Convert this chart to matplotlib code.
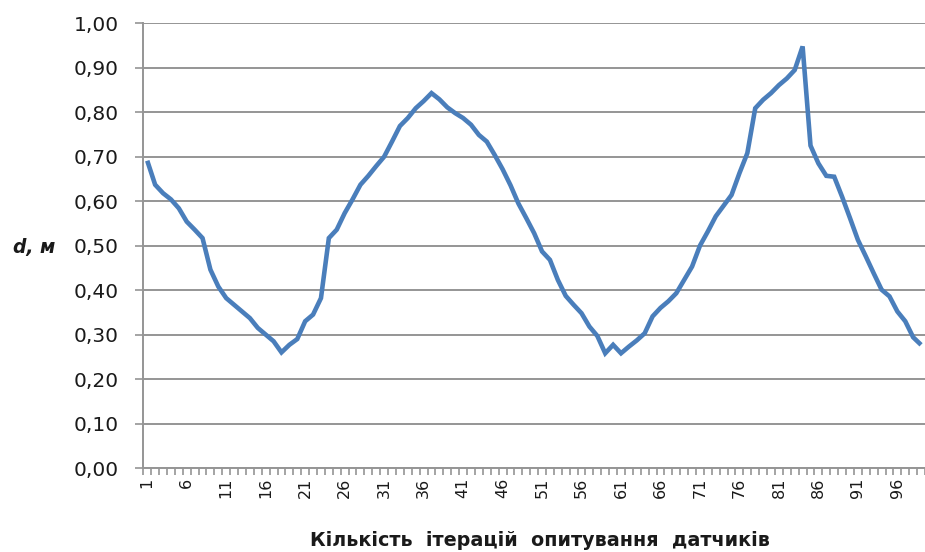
import matplotlib
matplotlib.use("Agg")
import matplotlib.pyplot as plt
import numpy as np

iterations = list(range(1, 100))
distance_m = [
    0.691, 0.637, 0.618, 0.604, 0.584, 0.554, 0.536, 0.517, 0.446, 0.408,
    0.382, 0.367, 0.352, 0.337, 0.315, 0.300, 0.285, 0.260, 0.277, 0.290,
    0.330, 0.345, 0.382, 0.517, 0.536, 0.573, 0.604, 0.637, 0.657, 0.679,
    0.700, 0.734, 0.769, 0.787, 0.809, 0.825, 0.843, 0.829, 0.811, 0.798,
    0.787, 0.772, 0.749, 0.734, 0.704, 0.672, 0.636, 0.595, 0.562, 0.528,
    0.487, 0.468, 0.423, 0.387, 0.367, 0.348, 0.318, 0.297, 0.258, 0.277,
    0.258, 0.273, 0.287, 0.303, 0.341, 0.360, 0.375, 0.393, 0.423, 0.453,
    0.500, 0.532, 0.566, 0.590, 0.614, 0.663, 0.708, 0.809, 0.828, 0.843,
    0.861, 0.876, 0.895, 0.948, 0.725, 0.685, 0.657, 0.655, 0.610, 0.562,
    0.513, 0.476, 0.438, 0.401, 0.386, 0.352, 0.330, 0.294, 0.277,
]
y_ticks = [0.0, 0.1, 0.2, 0.3, 0.4, 0.5, 0.6, 0.7, 0.8, 0.9, 1.0]
x_labels = list(range(1, 100, 5))
x_title = "Кількість  ітерацій  опитування  датчиків"
y_title = "d, м"

W, H = 925, 552
fig = plt.figure(figsize=(W / 100, H / 100), dpi=100)
left, right, top, bottom = 143.3, 925.0, 23.3, 468.0
ax = fig.add_axes([left / W, 1 - bottom / H, (right - left) / W, (bottom - top) / H])

grid_c = "#959595"
ax.plot(iterations, distance_m, color="#4a7ebb", lw=3.3, solid_joinstyle="miter",
        solid_capstyle="butt", zorder=3)

ax.set_xlim(0.5, len(iterations) + 0.5)
ax.set_ylim(0, 1.0)
ax.set_yticks(y_ticks)
ax.set_yticklabels([f"{v:.2f}".replace(".", ",") for v in y_ticks],
                   fontsize=14.5, color="#1a1a1a")
ax.yaxis.grid(True, color=grid_c, lw=1.4)
ax.set_axisbelow(True)

ax.set_xticks(x_labels)
ax.set_xticklabels([str(v) for v in x_labels], rotation=90, fontsize=11.5, color="#1a1a1a")
ax.set_xticks(np.arange(0.5, len(iterations) + 1, 1.0), minor=True)
ax.tick_params(axis="x", which="major", length=0, pad=7)
ax.tick_params(axis="x", which="minor", length=5, width=1.2, color=grid_c)
ax.tick_params(axis="y", which="major", length=5.5, width=1.2, color=grid_c, pad=12)

for s in ["top", "right"]:
    ax.spines[s].set_visible(False)
for s in ["left", "bottom"]:
    ax.spines[s].set_color(grid_c)
    ax.spines[s].set_linewidth(1.4)

fig.text(540 / W, 1 - 540 / H, x_title, ha="center", va="center",
         fontsize=13.8, fontweight="bold", color="#1a1a1a")
fig.text(34 / W, 1 - 248 / H, y_title, ha="center", va="center",
         fontsize=13.5, fontweight="bold", fontstyle="italic", color="#1a1a1a")

fig.savefig("out.png", dpi=100)
